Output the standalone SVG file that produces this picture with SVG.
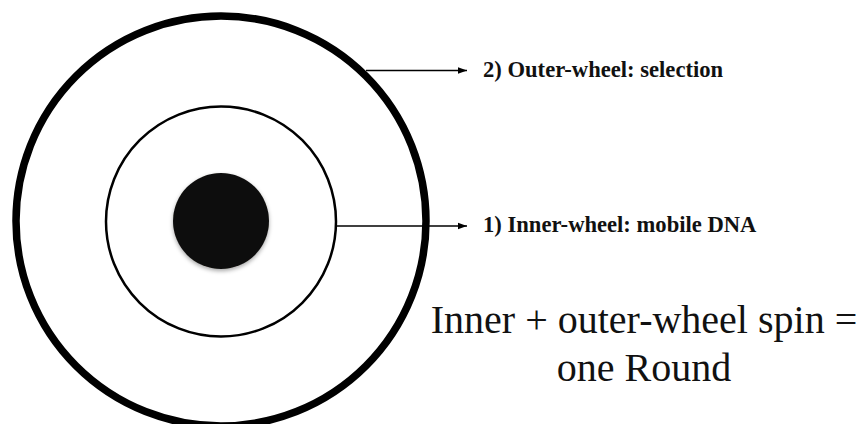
<svg xmlns="http://www.w3.org/2000/svg" width="862" height="424" viewBox="0 0 862 424">
<style>
.lbl{font-family:"Liberation Serif","Times New Roman",serif;font-weight:bold;font-size:22.6px;fill:#111}
.big{font-family:"Liberation Serif","Times New Roman",serif;font-size:40px;fill:#111;text-anchor:middle}
.conn{stroke:#000;stroke-width:1.3;fill:none}
</style>
<defs>
<marker id="ah" markerWidth="10" markerHeight="8" refX="9" refY="4" orient="auto" markerUnits="userSpaceOnUse">
<path d="M0,0.8 L9,4 L0,7.2 Z" fill="#000"/>
</marker>
<filter id="sh" x="-20%" y="-20%" width="140%" height="150%">
<feDropShadow dx="0" dy="2" stdDeviation="2" flood-color="#000" flood-opacity="0.35"/>
</filter>
</defs>
<rect width="862" height="424" fill="#fff"/>
<g id="outer-wheel"><circle cx="221" cy="221" r="205" fill="none" stroke="#000" stroke-width="7.5"/></g>
<g id="inner-wheel"><circle cx="221" cy="221.5" r="115" fill="none" stroke="#000" stroke-width="2.5"/></g>
<g id="core"><circle cx="221" cy="221" r="48" fill="#0d0c0a" filter="url(#sh)"/></g>
<g id="connectors">
<line class="conn" x1="366" y1="70.5" x2="467" y2="70.5" marker-end="url(#ah)"/>
<line class="conn" x1="336" y1="226" x2="467" y2="226" marker-end="url(#ah)"/>
</g>
<g id="label-outer"><text class="lbl" x="483" y="77">2) Outer-wheel: selection</text></g>
<g id="label-inner"><text class="lbl" x="483" y="232">1) Inner-wheel: mobile DNA</text></g>
<g id="caption"><text class="big" x="644" y="333">Inner + outer-wheel spin =</text><text class="big" x="644" y="381">one Round</text></g>
</svg>
